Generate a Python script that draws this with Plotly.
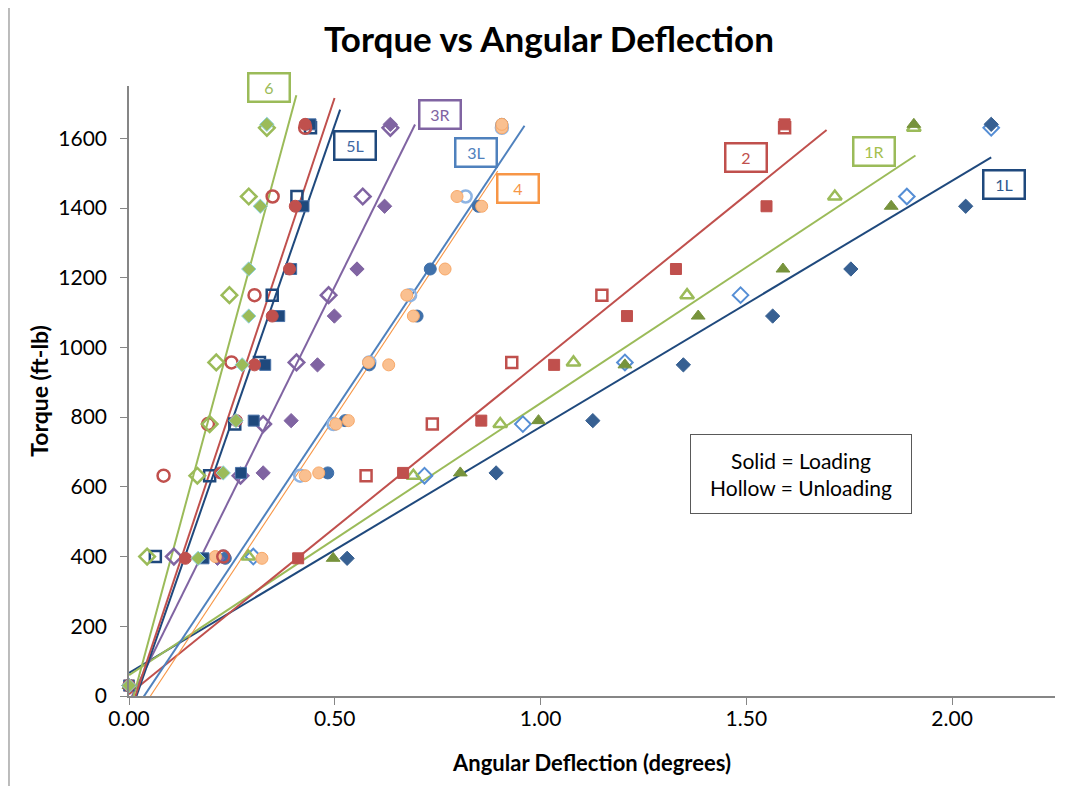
import plotly.graph_objects as go

# ---------------- data ----------------
load_torque = [30, 395, 640, 790, 950, 1090, 1225, 1405, 1640]
unload_torque = [1630, 1433, 1150, 957, 780, 632, 400]

specimens = ["1L", "1R", "2", "3L", "3R", "4", "5L", "5R", "6"]

load_1L = [0.0, 0.530, 0.892, 1.127, 1.347, 1.564, 1.754, 2.033, 2.095]
unload_1L = [2.095, 1.890, 1.486, 1.205, 0.957, 0.718, 0.302]
load_1R = [0.0, 0.496, 0.805, 0.995, 1.205, 1.383, 1.589, 1.852, 1.907]
unload_1R = [1.907, 1.715, 1.356, 1.080, 0.902, 0.691, 0.290]
load_2 = [0.0, 0.411, 0.666, 0.856, 1.033, 1.210, 1.329, 1.549, 1.593]
unload_2 = [1.593, None, 1.149, 0.930, 0.737, 0.576, None]
load_3L = [0.0, 0.234, 0.483, 0.525, 0.584, 0.700, 0.732, 0.849, 0.906]
unload_3L = [0.906, 0.818, 0.683, 0.584, 0.497, 0.416, 0.229]
load_3R = [0.0, 0.215, 0.326, 0.394, 0.458, 0.499, 0.554, 0.621, 0.635]
unload_3R = [0.635, 0.568, 0.485, 0.407, 0.326, 0.271, 0.109]
load_4 = [0.0, 0.323, 0.461, 0.533, 0.631, 0.691, 0.768, 0.857, 0.906]
unload_4 = [0.906, 0.797, 0.675, 0.582, 0.503, 0.428, 0.210]
load_5L = [0.0, 0.181, 0.272, 0.303, 0.331, 0.365, 0.394, 0.424, 0.441]
unload_5L = [0.441, 0.408, 0.348, 0.317, 0.257, 0.196, 0.064]
load_5R = [0.0, 0.137, 0.222, 0.261, 0.305, 0.348, 0.390, 0.404, 0.428]
unload_5R = [0.428, 0.349, 0.305, 0.249, 0.192, 0.084, 0.229]
load_6 = [0.0, 0.168, 0.229, 0.260, 0.275, 0.291, 0.291, 0.319, 0.335]
unload_6 = [0.335, 0.291, 0.244, 0.212, 0.196, 0.166, 0.044]

# linear trendlines (torque = slope*x + intercept)
trend_slope = [706, 780, 955, 1770, 2385, 1785, 3400, 3545, 4360]
trend_intercept = [66, 60, 5, -65, -18, -93, -62, -55, -49]
trend_x_end = [2.095, 1.911, 1.695, 0.961, 0.695, 0.896, 0.513, 0.4995, 0.4066]

# ---------------- styles ----------------
GREEN = "#9BBB59"
RED = "#C0504D"
NAVY = "#1F497D"
PURPLE = "#8064A2"
BLUE = "#4F81BD"
ORANGE = "#F79646"
PEACH = "#FAC090"
OLIVE = "#77933C"

trend_color = {"1L": NAVY, "1R": GREEN, "2": RED, "3L": BLUE, "3R": PURPLE,
               "4": ORANGE, "5L": NAVY, "5R": RED, "6": GREEN}
trend_width = {"4": 1.1}

load_style = {
    "1L": dict(symbol="diamond", color="#376092", size=11, line=dict(color="#376092", width=1)),
    "1R": dict(symbol="triangle-up", color=OLIVE, size=12, line=dict(color=OLIVE, width=1)),
    "2": dict(symbol="square", color=RED, size=11, line=dict(color=RED, width=1)),
    "3L": dict(symbol="circle", color="#3F70AA", size=12, line=dict(color="#3F70AA", width=1)),
    "3R": dict(symbol="diamond", color=PURPLE, size=11, line=dict(color=PURPLE, width=1)),
    "4": dict(symbol="circle", color=PEACH, size=12, line=dict(color="#F8A868", width=1)),
    "5L": dict(symbol="square", color=NAVY, size=11, line=dict(color="#4A72A8", width=1)),
    "5R": dict(symbol="circle", color=RED, size=12, line=dict(color=RED, width=1)),
    "6": dict(symbol="diamond", color=GREEN, size=11, line=dict(color="#8DD3E0", width=1)),
}
unload_style = {
    "1L": dict(symbol="diamond-open", color="#558ED5", size=12, line=dict(color="#558ED5", width=2)),
    "1R": dict(symbol="triangle-up-open", color=GREEN, size=12, line=dict(color=GREEN, width=2.5)),
    "2": dict(symbol="square-open", color=RED, size=11, line=dict(color=RED, width=2.5)),
    "3L": dict(symbol="circle-open", color="#8EB4E3", size=12, line=dict(color="#8EB4E3", width=2.5)),
    "3R": dict(symbol="diamond-open", color=PURPLE, size=12, line=dict(color=PURPLE, width=2.5)),
    "4": dict(symbol="circle", color=PEACH, size=12, line=dict(color="#F8A868", width=1)),
    "5L": dict(symbol="square-open", color=NAVY, size=11, line=dict(color=NAVY, width=2.5)),
    "5R": dict(symbol="circle-open", color=RED, size=12, line=dict(color=RED, width=2.5)),
    "6": dict(symbol="diamond-open", color=GREEN, size=12, line=dict(color=GREEN, width=2.5)),
}

loads = {"1L": load_1L, "1R": load_1R, "2": load_2, "3L": load_3L, "3R": load_3R,
         "4": load_4, "5L": load_5L, "5R": load_5R, "6": load_6}
unloads = {"1L": unload_1L, "1R": unload_1R, "2": unload_2, "3L": unload_3L, "3R": unload_3R,
           "4": unload_4, "5L": unload_5L, "5R": unload_5R, "6": unload_6}

fig = go.Figure()

# trendlines
for name, m, b, xe in zip(specimens, trend_slope, trend_intercept, trend_x_end):
    fig.add_trace(go.Scatter(
        x=[0.0, xe], y=[b, m * xe + b], mode="lines",
        line=dict(color=trend_color[name], width=trend_width.get(name, 2)),
        hoverinfo="skip", showlegend=False))

# markers
for name in specimens:
    fig.add_trace(go.Scatter(
        x=unloads[name], y=unload_torque, mode="markers", name=name + " unloading",
        marker=unload_style[name], cliponaxis=False, showlegend=False))
    fig.add_trace(go.Scatter(
        x=loads[name], y=load_torque, mode="markers", name=name + " loading",
        marker=load_style[name], cliponaxis=False, showlegend=False))

# label boxes
label_pos = {"6": (0.339, 1747), "5R": (0.513, 1761), "5L": (0.549, 1578),
             "3R": (0.755, 1667), "3L": (0.843, 1558), "4": (0.945, 1457),
             "2": (1.499, 1546), "1R": (1.810, 1561), "1L": (2.126, 1466)}
label_text_color = {"6": GREEN, "5R": "#D0605D", "5L": "#3E68A3", "3R": PURPLE,
                    "3L": BLUE, "4": ORANGE, "2": RED, "1R": "#A5C04E", "1L": "#2F5A8E"}
for name, (lx, ly) in label_pos.items():
    fig.add_annotation(
        x=lx, y=ly, xref="x", yref="y", text=name, showarrow=False,
        font=dict(family="Lato", size=16, color=label_text_color[name]),
        bordercolor=trend_color[name], borderwidth=2.5, borderpad=2,
        bgcolor="white", width=35, height=22)

fig.add_annotation(
    x=1.632, y=637, xref="x", yref="y",
    text="Solid = Loading<br>Hollow = Unloading", showarrow=False,
    font=dict(family="Lato", size=21, color="black"),
    bordercolor="#595959", borderwidth=1, borderpad=5, bgcolor="white",
    width=210, height=68)

# outer chart border (left edge visible in reference)
fig.add_shape(type="line", xref="paper", yref="paper",
              x0=-0.1296, x1=-0.1296, y0=-0.2, y1=1.2,
              line=dict(color="#A6A6A6", width=1.5))

# page body has an 8px margin: figure is sized/offset to compensate
fig.update_layout(
    width=1065, height=778,
    margin=dict(l=121, r=18, t=78, b=90),
    paper_bgcolor="white", plot_bgcolor="white",
    title=dict(text="<b>Torque vs Angular Deflection</b>", x=541 / 1065, xanchor="center",
               y=1 - 32 / 778, yanchor="middle",
               font=dict(family="Lato", size=35, color="black")),
    font=dict(family="Lato", color="black"),
    showlegend=False,
)
fig.update_xaxes(
    range=[0, 2.25], dtick=0.5, tick0=0, tickformat=".2f",
    showline=True, linecolor="#868686", linewidth=1.5,
    ticks="outside", ticklen=7, tickcolor="#868686",
    showgrid=False, zeroline=False, ticklabelstandoff=-4,
    tickfont=dict(family="Lato", size=21, color="black"),
    title=dict(text="<b>Angular Deflection (degrees)</b>", standoff=27,
               font=dict(family="Lato", size=22, color="black")))
fig.update_yaxes(
    range=[0, 1750], dtick=200, tick0=0,
    showline=True, linecolor="#868686", linewidth=1.5,
    ticks="outside", ticklen=7, tickcolor="#868686",
    showgrid=False, zeroline=False, ticklabelstandoff=9,
    tickfont=dict(family="Lato", size=21, color="black"),
    title=dict(text="<b>Torque (ft-lb)</b>", standoff=3,
               font=dict(family="Lato", size=23, color="black")))

fig.write_html("out.html")
